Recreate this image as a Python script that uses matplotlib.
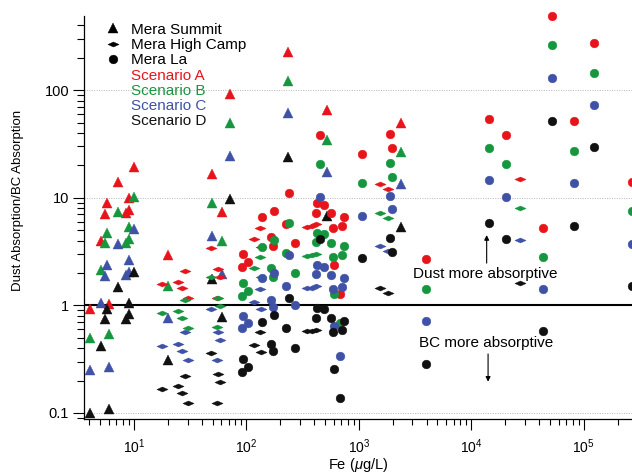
import matplotlib
matplotlib.use('Agg')
import matplotlib.pyplot as plt
from matplotlib.path import Path
from matplotlib.ticker import LogLocator, NullFormatter, FuncFormatter, FixedLocator
from matplotlib.lines import Line2D
import numpy as np

plt.rcParams['font.family'] = ['Liberation Sans', 'DejaVu Sans']
plt.rcParams['mathtext.fontset'] = 'custom'
plt.rcParams['mathtext.rm'] = 'Liberation Sans'
plt.rcParams['mathtext.it'] = 'Liberation Sans:italic'

# ---------------- data ----------------
scenarios = ['Scenario A', 'Scenario B', 'Scenario C', 'Scenario D']
scenario_colors = ['#e8141c', '#16973f', '#3f52a5', '#111111']
sites = ['Mera Summit', 'Mera High Camp', 'Mera La']

# Mera Summit (triangles)
summit_fe = [4.04, 5.14, 5.53, 5.81, 6.00, 7.23, 8.45, 9.0, 9.1, 9.96,
             19.9, 49.9, 60.8, 71.9, 235, 519, 2370]
summit_A = [0.93, 3.98, 7.06, 8.87, 1.02, 13.9, 7.16, 9.87, 7.69, 19.2,
            2.93, 16.6, 7.41, 91.6, 227, 64.9, 49.8]
summit_B = [0.50, 2.13, 3.77, 4.73, 0.54, 7.41, 3.77, 5.31, 4.11, 10.1,
            1.51, 8.93, 3.96, 49.1, 122, 34.4, 26.8]
summit_C = [0.25, 1.06, 1.87, 2.37, 0.265, 3.69, 1.91, 2.64, 2.05, 5.09,
            0.77, 4.45, 1.95, 24.4, 60.9, 17.2, 13.3]
summit_D = [0.099, 0.42, 0.75, 0.93, 0.108, 1.49, 0.75, 1.06, 0.83, 2.03,
            0.31, 1.74, 0.78, 9.8, 24.0, 6.83, 5.34]

# Mera High Camp (diamonds)
camp_fe = [17.6, 24.7, 26.5, 28.7, 30.3, 48.9, 56.0, 58.0, 55.0,
           133, 116, 135, 345, 382, 414, 1540, 1820, 27000]
camp_A = [1.57, 1.66, 1.44, 2.10, 1.18, 3.39, 2.16, 1.84, 1.18,
          5.26, 4.10, 3.46, 5.34, 5.52, 5.70, 13.4, 12.0, 14.9]
camp_B = [0.84, 0.89, 0.76, 1.12, 0.62, 1.82, 1.16, 0.99, 0.63,
          2.83, 2.21, 1.84, 2.87, 2.93, 3.00, 7.16, 6.43, 7.97]
camp_C = [0.42, 0.44, 0.38, 0.56, 0.31, 0.92, 0.57, 0.48, 0.31,
          1.41, 1.08, 0.92, 1.45, 1.46, 1.51, 3.58, 3.22, 4.04]
camp_D = [0.167, 0.178, 0.152, 0.222, 0.124, 0.36, 0.231, 0.195, 0.124,
          0.57, 0.43, 0.37, 0.58, 0.58, 0.59, 1.44, 1.29, 1.60]

# Mera La (circles)
la_fe = [93.5, 92, 104, 139, 175, 167, 171, 240, 223, 270,
         450, 425, 488, 420, 564, 736, 590, 702, 603, 678,
         1070, 1890, 1980, 3950, 14400, 20300, 43600, 51800, 81900, 123000, 268000]
la_A = [3.00, 2.28, 2.54, 6.66, 7.57, 4.29, 3.56, 11.0, 5.70, 3.77,
        38.3, 8.87, 8.55, 7.26, 7.16, 6.66, 5.20, 5.49, 2.37, 1.27,
        25.5, 38.8, 29.2, 2.69, 54.2, 38.5, 5.26, 488, 51.3, 276, 14.1]
la_B = [1.60, 1.22, 1.36, 3.51, 4.04, 2.24, 1.84, 5.78, 3.04, 2.01,
        20.4, 4.73, 4.60, 3.90, 3.82, 3.58, 2.83, 2.93, 1.27, 0.68,
        13.6, 20.9, 15.7, 1.43, 29.0, 20.6, 2.83, 261, 27.3, 146, 7.57]
la_C = [0.80, 0.61, 0.68, 1.78, 2.01, 1.12, 0.96, 2.93, 1.51, 1.00,
        10.2, 2.37, 2.28, 1.95, 1.91, 1.81, 1.41, 1.47, 0.64, 0.34,
        6.76, 10.4, 7.80, 0.71, 14.5, 10.2, 1.41, 130, 13.6, 72.7, 3.74]
la_D = [0.32, 0.24, 0.27, 0.70, 0.81, 0.44, 0.38, 1.18, 0.61, 0.40,
        4.10, 0.94, 0.92, 0.77, 0.77, 0.72, 0.56, 0.59, 0.254, 0.137,
        2.73, 4.19, 3.11, 0.285, 5.78, 4.10, 0.58, 52, 5.46, 29.4, 1.51]

y_ticks = [0.1, 1, 10, 100]

# ---------------- figure ----------------
W, H = 632, 473
fig = plt.figure(figsize=(W / 100, H / 100), dpi=100)
ax = fig.add_axes([84 / W, 1 - 418.5 / H, 1 - 84 / W, (418.5 - 16) / H])
ax.set_xscale('log')
ax.set_yscale('log')
ax.set_xlim(3.6, 2.685e5)
ax.set_ylim(0.0887, 490)

diamond = Path([(-1, 0), (0, 0.45), (1, 0), (0, -0.45), (-1, 0)],
               [Path.MOVETO, Path.LINETO, Path.LINETO, Path.LINETO, Path.CLOSEPOLY])
markers = {'Mera Summit': ('^', 7.0), 'Mera High Camp': (diamond, 8.0), 'Mera La': ('o', 6.3)}

site_data = [
    ('Mera Summit', summit_fe, [summit_A, summit_B, summit_C, summit_D]),
    ('Mera High Camp', camp_fe, [camp_A, camp_B, camp_C, camp_D]),
    ('Mera La', la_fe, [la_A, la_B, la_C, la_D]),
]

ax.axhline(1, color='black', lw=1.5, zorder=1)
for yv in [0.1, 10, 100]:
    ax.axhline(yv, color='#b5b5b5', lw=0.7, ls=(0, (1, 1.5)), zorder=0)

for name, fe, vals in site_data:
    m, ms = markers[name]
    for v, c in zip(vals, scenario_colors):
        ax.plot(fe, v, linestyle='none', marker=m, markersize=ms, color=c,
                markeredgewidth=0.3, markeredgecolor=c, clip_on=False, zorder=3)

# axes styling
for s in ['top', 'right']:
    ax.spines[s].set_visible(False)
for s in ['left', 'bottom']:
    ax.spines[s].set_linewidth(0.9)

ax.xaxis.set_major_locator(LogLocator(base=10, numticks=20))
ax.xaxis.set_minor_locator(LogLocator(base=10, subs=np.arange(2, 10), numticks=20))
ax.xaxis.set_minor_formatter(NullFormatter())
ax.yaxis.set_major_locator(FixedLocator(y_ticks))
ax.yaxis.set_major_formatter(FuncFormatter(lambda v, _: f'{v:g}'))
ax.yaxis.set_minor_locator(LogLocator(base=10, subs=np.arange(2, 10), numticks=20))
ax.yaxis.set_minor_formatter(NullFormatter())

ax.tick_params(axis='both', which='major', direction='out', length=7.7, width=0.8,
               colors='black')
ax.tick_params(axis='x', which='major', pad=6, labelsize=10)
ax.tick_params(axis='y', which='major', pad=3, labelsize=10.5)
ax.tick_params(axis='x', which='minor', direction='out', length=4.0, width=0.8)
ax.tick_params(axis='y', which='minor', direction='out', length=5.0, width=0.8)

ax.set_xlabel('Fe ($\\mu$g/L)', fontsize=10.5, labelpad=0)
ax.set_ylabel('Dust Absorption/BC Absorption', fontsize=9.5)
ax.yaxis.set_label_coords(-0.1095, 0.543)

# annotations
ax.text(13430, 1.78, 'Dust more absorptive', ha='center', va='baseline', fontsize=11)
ax.text(13430, 0.412, 'BC more absorptive', ha='center', va='baseline', fontsize=11)
ax.annotate('', xy=(13700, 4.5), xytext=(13700, 2.47),
            arrowprops=dict(arrowstyle='-|>', color='black', lw=0.8,
                            shrinkA=0, shrinkB=0, mutation_scale=7))
ax.annotate('', xy=(14100, 0.195), xytext=(14100, 0.353),
            arrowprops=dict(arrowstyle='-|>', color='black', lw=0.8,
                            shrinkA=0, shrinkB=0, mutation_scale=7))

# legend (manual layout)
legend_rows = [(s, markers[s], 'black') for s in sites] + \
              [(s, None, c) for s, c in zip(scenarios, scenario_colors)]
for i, (label, mk, col) in enumerate(legend_rows):
    yc = 28.3 + 15.3 * i
    if mk is not None:
        fig.add_artist(Line2D([113 / W], [1 - yc / H], marker=mk[0], markersize=mk[1],
                              color='black', markeredgewidth=0.3, linestyle='none',
                              transform=fig.transFigure))
    fig.text(131 / W, 1 - (yc + 5.3) / H, label, color=col, fontsize=11,
             ha='left', va='baseline')

fig.savefig('out.png', dpi=100)
